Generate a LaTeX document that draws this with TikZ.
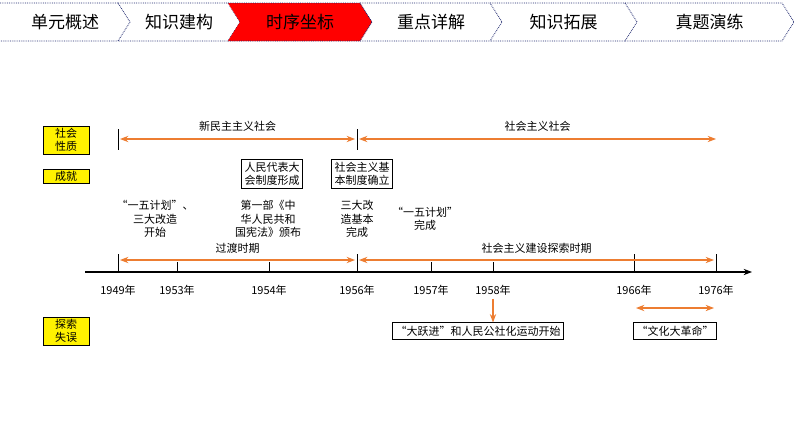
\documentclass[tikz,border=0pt]{standalone}
\usepackage{fontspec}
\setmainfont{Noto Sans CJK SC}
\usetikzlibrary{arrows.meta,positioning}
\definecolor{arr}{RGB}{237,125,49}
\definecolor{navy}{RGB}{31,40,110}
\tikzset{
    >=Stealth,
    font=\fontsize{11}{13.5}\selectfont,
    tab/.style={draw=navy,densely dotted,thick},
    tag box/.style={draw=black,fill=yellow,minimum width=46pt,align=center,inner sep=2pt},
    event box/.style={draw=black,thick,align=center,inner sep=3pt},
    event text/.style={align=center},
    span/.style={<->,arr,very thick},
    tick/.style={thick}
}
\begin{document}
\begin{tikzpicture}[x=1pt,y=-1pt]
    \useasboundingbox (0,0) rectangle (794,447);
    % tabs
    \foreach \a/\b/\t [count=\i] in {0/118/单元概述,118/228/知识建构,228/360/时序坐标,360/490/重点详解,490/625/知识拓展,625/782/真题演练}{
        \ifnum\i=3
            \fill[red] (\a,3) -- (\b,3) -- (\b+12,22) -- (\b,41) -- (\a,41) -- (\a+12,22) -- cycle;
        \fi
        \draw[tab] (\a,3) -- (\b,3) -- (\b+12,22) -- (\b,41) -- (\a,41);
        \node[font=\fontsize{17}{19}\selectfont] (tab\i) at ({(\a+\b)/2+6},22) {\t};
    }
    % tags
    \node[tag box] (nature) at (66,140) {社会\\性质};
    \node[tag box] (achieve) at (66,176) {成就};
    \node[tag box] (fault) at (66,331) {探索\\失误};
    % axis
    \coordinate (ax0) at (85,272);
    \coordinate (ax1) at (752,272);
    \draw[->,very thick] (ax0) -- (ax1);
    \foreach \x/\y in {118/1949,177/1953,269/1954,357/1956,431/1957,493/1958,634/1966,716/1976}{
        \draw[tick] (\x,262) -- (\x,272);
        \node (y\y) at (\x,290) {\y 年};
    }
    \foreach \x in {118,357,634,716} \draw[tick] (\x,254) -- (\x,272);
    \draw[tick] (118,129) -- (118,150);
    \draw[tick] (357,129) -- (357,150);
    % spans
    \coordinate (n0) at (120,139); \coordinate (n1) at (355,139); \coordinate (n2) at (359,139); \coordinate (n3) at (716,139);
    \draw[span] (n0) -- node[above=4pt,black] (newdem) {新民主主义社会} (n1);
    \draw[span] (n2) -- node[above=4pt,black] (social) {社会主义社会} (n3);
    \coordinate (t0) at (120,260); \coordinate (t1) at (355,260); \coordinate (t2) at (359,260); \coordinate (t3) at (714,260);
    \draw[span] (t0) -- node[above=3pt,black] (trans) {过渡时期} (t1);
    \draw[span] (t2) -- node[above=3pt,black] (explore) {社会主义建设探索时期} (t3);
    \coordinate (c0) at (636,308); \coordinate (c1) at (714,308);
    \draw[span] (c0) -- (c1);
    % achievements
    \node[event box] (congress) at (272,174) {人民代表大\\会制度形成};
    \node[event box] (basic) at (362,174) {社会主义基\\本制度确立};
    \node[event text] (plan1) at (155,219) {“一五计划”、\\三大改造\\开始};
    \node[event text] (const) at (268,219) {第一部《中\\华人民共和\\国宪法》颁布};
    \node[event text] (reform) at (357,219) {三大改\\造基本\\完成};
    \node[event text] (plan2) at (425,219) {“一五计划”\\完成};
    % faults
    \node[event box] (leap) at (478,331) {“大跃进”和人民公社化运动开始};
    \node[event box] (culture) at (675,331) {“文化大革命”};
    \draw[->,arr,very thick] (y1958.south) -- (y1958.south |- leap.north);
\end{tikzpicture}
\end{document}
